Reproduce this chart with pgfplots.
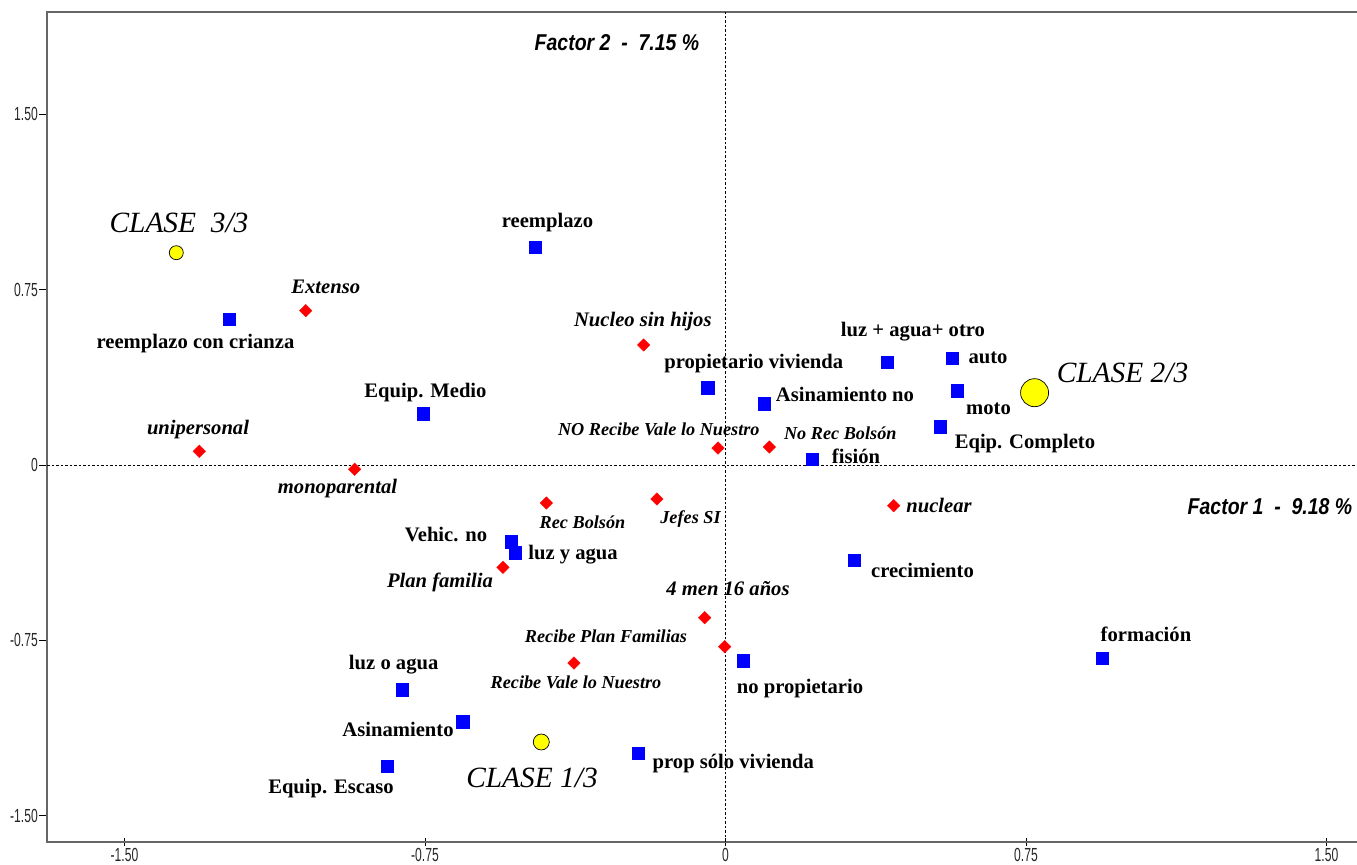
\documentclass[border=0pt]{standalone}
\usepackage{fontspec}
\setmainfont{Liberation Serif}
\newfontfamily\nsans[FakeStretch=0.64]{Liberation Sans}
\newfontfamily\fsans[FakeStretch=0.85]{Liberation Sans}
\usepackage{pgfplots}
\pgfplotsset{compat=1.18}

\definecolor{sqblue}{RGB}{0,0,255}
\definecolor{dred}{RGB}{255,0,0}
\definecolor{cyel}{RGB}{255,255,0}

\newcommand{\bl}[1]{{\fontsize{20.7}{22}\selectfont\bfseries #1}}
\newcommand{\rl}[1]{{\fontsize{20.7}{22}\selectfont\bfseries\itshape #1}}
\newcommand{\rs}[1]{{\fontsize{18.3}{20}\selectfont\bfseries\itshape #1}}
\newcommand{\cl}[1]{{\fontsize{29.5}{31}\selectfont\itshape #1}}
\newcommand{\fl}[1]{{\fsans\fontsize{23}{24}\selectfont\bfseries\itshape #1}}

\begin{document}
\begin{tikzpicture}
\begin{axis}[
  at={(47bp,23bp)}, anchor=south west,
  scale only axis, width=1319.6bp, height=830bp,
  xmin=-1.6933, xmax=1.60, ymin=-1.6132, ymax=1.9384,
  clip=false,
  axis line style={black!60, line width=1.5bp},
  xtick={-1.5,-0.75,0,0.75,1.5}, xticklabels={-1.50,-0.75,0,0.75,1.50},
  ytick={-1.5,-0.75,0,0.75,1.5}, yticklabels={-1.50,-0.75,0,0.75,1.50},
  tick pos=left,
  xtick align=center, ytick align=outside,
  major tick length=8bp,
  tick style={black, line width=0.8bp},
  ticklabel style={font=\nsans\fontsize{19}{19}\selectfont, text=black!85},
  yticklabel style={anchor=east, inner sep=0pt, xshift=-1bp},
  xticklabel style={anchor=north, inner sep=0pt, yshift=-2.5bp},
]
% zero reference lines
\draw[black, line width=0.7bp, dash pattern=on 2.5bp off 2bp] (axis cs:-1.6933,0) -- (axis cs:1.60,0);
\draw[black, line width=0.7bp, dash pattern=on 2.5bp off 2bp] (axis cs:0,-1.6132) -- (axis cs:0,1.9384);

% blue squares (modalities)
\addplot[color=sqblue, only marks, mark=square*, mark size=6.1bp, mark options={draw=none, fill=sqblue}] coordinates {
(-0.4754,0.9328) (-1.2383,0.6247) (-0.7542,0.2195) (-0.0444,0.3308) (0.0968,0.2623)
(0.4030,0.4407) (0.5653,0.4566) (0.5778,0.3179) (0.5353,0.1639) (0.2159,0.0257)
(-0.5353,-0.3282) (-0.5253,-0.3753) (0.3207,-0.4065) (0.9396,-0.8258) (0.0444,-0.8374)
(-0.8066,-0.9615) (-0.6559,-1.0984) (-0.8448,-1.2880) (-0.2176,-1.2323)
};
% red diamonds
\addplot[color=dred, only marks, mark=square*, mark size=4.4bp, mark options={draw=none, fill=dred, rotate=45}] coordinates {
(-1.0477,0.6603) (-1.3132,0.0586) (-0.9254,-0.0184) (-0.2041,0.5135) (-0.0187,0.0727)
(0.1093,0.0770) (-0.4472,-0.1626) (-0.1710,-0.1455) (0.4198,-0.1742) (-0.5553,-0.4377)
(-0.0519,-0.6534) (-0.0020,-0.7775) (-0.3781,-0.8473)
};
% class centres
\addplot[color=black, only marks, mark=*, mark size=7bp, mark options={draw=black, line width=0.7bp, fill=cyel}] coordinates {(-1.3706,0.9084)};
\addplot[color=black, only marks, mark=*, mark size=14bp, mark options={draw=black, line width=0.7bp, fill=cyel}] coordinates {(0.7714,0.3094)};
\addplot[color=black, only marks, mark=*, mark size=8bp, mark options={draw=black, line width=0.7bp, fill=cyel}] coordinates {(-0.4597,-1.1853)};

% blue labels
\node[inner sep=0pt] at (axis cs:-0.4442,1.0355) {\bl{reemplazo}};
\node[inner sep=0pt] at (axis cs:-1.3227,0.5208) {\bl{reemplazo con crianza}};
\node[inner sep=0pt] at (axis cs:-0.7487,0.3111) {\bl{Equip. Medio}};
\node[inner sep=0pt] at (axis cs:0.0706,0.4352) {\bl{propietario vivienda}};
\node[inner sep=0pt] at (axis cs:0.2982,0.3025) {\bl{Asinamiento no}};
\node[inner sep=0pt] at (axis cs:0.4679,0.5704) {\bl{luz + agua+ otro}};
\node[inner sep=0pt] at (axis cs:0.6551,0.4566) {\bl{auto}};
\node[inner sep=0pt] at (axis cs:0.6564,0.2426) {\bl{moto}};
\node[inner sep=0pt] at (axis cs:0.7474,0.0899) {\bl{Eqip. Completo}};
\node[inner sep=0pt] at (axis cs:0.3257,0.0385) {\bl{fisión}};
\node[inner sep=0pt] at (axis cs:-0.6975,-0.2965) {\bl{Vehic. no}};
\node[inner sep=0pt] at (axis cs:-0.3806,-0.3851) {\bl{luz y agua}};
\node[inner sep=0pt] at (axis cs:0.4916,-0.4493) {\bl{crecimiento}};
\node[inner sep=0pt] at (axis cs:1.0494,-0.7232) {\bl{formación}};
\node[inner sep=0pt] at (axis cs:0.1859,-0.9585) {\bl{no propietario}};
\node[inner sep=0pt] at (axis cs:-0.8281,-0.8558) {\bl{luz o agua}};
\node[inner sep=0pt] at (axis cs:-0.8173,-1.1309) {\bl{Asinamiento}};
\node[inner sep=0pt] at (axis cs:-0.9845,-1.3834) {\bl{Equip. Escaso}};
\node[inner sep=0pt] at (axis cs:0.0195,-1.2794) {\bl{prop sólo vivienda}};

% red labels
\node[inner sep=0pt] at (axis cs:-0.9977,0.7604) {\rl{Extenso}};
\node[inner sep=0pt] at (axis cs:-1.3164,0.1498) {\rl{unipersonal}};
\node[inner sep=0pt] at (axis cs:-0.9683,-0.1027) {\rl{monoparental}};
\node[inner sep=0pt] at (axis cs:-0.2064,0.6132) {\rl{Nucleo sin hijos}};
\node[inner sep=0pt] at (axis cs:-0.1665,0.1528) {\rs{NO Recibe Vale lo Nuestro}};
\node[inner sep=0pt] at (axis cs:0.2865,0.1356) {\rs{No Rec Bolsón}};
\node[inner sep=0pt] at (axis cs:-0.3569,-0.2469) {\rs{Rec Bolsón}};
\node[inner sep=0pt] at (axis cs:-0.0873,-0.2311) {\rs{Jefes SI}};
\node[inner sep=0pt] at (axis cs:0.5328,-0.1712) {\rl{nuclear}};
\node[inner sep=0pt] at (axis cs:-0.7125,-0.5036) {\rl{Plan familia}};
\node[inner sep=0pt] at (axis cs:0.0062,-0.5276) {\rl{4 men 16 años}};
\node[inner sep=0pt] at (axis cs:-0.2982,-0.7317) {\rs{Recibe Plan Familias}};
\node[inner sep=0pt] at (axis cs:-0.3731,-0.9315) {\rs{Recibe Vale lo Nuestro}};

% class labels
\node[inner sep=0pt] at (axis cs:-1.3639,1.0368) {\cl{CLASE\ \ 3/3}};
\node[inner sep=0pt] at (axis cs:0.9908,0.3924) {\cl{CLASE 2/3}};
\node[inner sep=0pt] at (axis cs:-0.4829,-1.3406) {\cl{CLASE 1/3}};

% factor titles
\node[inner sep=0pt] at (axis cs:-0.2708,1.8057) {\fl{Factor 2\ \ -\ \ 7.15 \%}};
\node[inner sep=0pt] at (axis cs:1.3589,-0.1797) {\fl{Factor 1\ \ -\ \ 9.18 \%}};
\end{axis}
\pgfresetboundingbox
\path[use as bounding box] (0,0) rectangle (1357bp,865bp);
\end{tikzpicture}
\end{document}
